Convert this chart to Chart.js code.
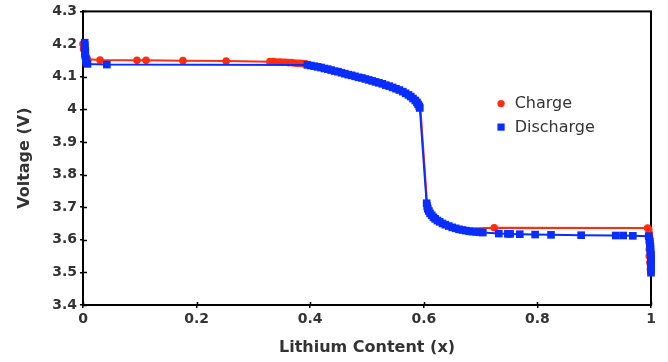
<!DOCTYPE html>
<html><head><meta charset="utf-8">
<script src="https://cdn.jsdelivr.net/npm/chart.js@4/dist/chart.umd.min.js"></script>
<style>html,body{margin:0;padding:0;background:#fff;overflow:hidden}</style>
</head><body><canvas id="c" width="668" height="362"></canvas>
<script>
// ---- data ----
const xTickValues = [0, 0.2, 0.4, 0.6, 0.8, 1];
const xTickLabels = ['0', '0.2', '0.4', '0.6', '0.8', '1'];
const yTickValues = [3.4, 3.5, 3.6, 3.7, 3.8, 3.9, 4.0, 4.1, 4.2, 4.3];
const yTickLabels = ['3.4', '3.5', '3.6', '3.7', '3.8', '3.9', '4', '4.1', '4.2', '4.3'];
const seriesNames = ['Charge', 'Discharge'];
const axisTitles = ['Lithium Content (x)', 'Voltage (V)'];

// Charge (x decreasing along the measurement)
const chargeX = [0.999, 0.998, 0.997, 0.997, 0.997, 0.997, 0.997, 0.996, 0.994,
  0.724, 0.670, 0.650, 0.630, 0.615, 0.606, 0.594, 0.585, 0.563, 0.533, 0.497, 0.461, 0.425,
  0.392, 0.387, 0.382, 0.377, 0.372, 0.367, 0.362, 0.357, 0.352, 0.347, 0.341, 0.335, 0.329,
  0.252, 0.176, 0.111, 0.095, 0.030, 0.008, 0.003, 0.001, 0.000];
const chargeV = [3.510, 3.530, 3.550, 3.570, 3.590, 3.605, 3.620, 3.632, 3.636,
  3.637, 3.634, 3.640, 3.653, 3.672, 3.705, 4.004, 4.027, 4.054, 4.074, 4.093, 4.109, 4.125,
  4.139, 4.140, 4.141, 4.141, 4.142, 4.143, 4.143, 4.144, 4.144, 4.145, 4.145, 4.146, 4.146,
  4.148, 4.149, 4.150, 4.150, 4.151, 4.153, 4.165, 4.185, 4.200];

// Discharge (x increasing)
const dischargeX = [0.003, 0.003, 0.003, 0.004, 0.004, 0.004, 0.005, 0.005, 0.006, 0.008,
  0.042,
  0.395, 0.401, 0.407, 0.413, 0.419, 0.425, 0.431, 0.437, 0.443, 0.449, 0.455, 0.461, 0.467,
  0.473, 0.479, 0.485, 0.491, 0.497, 0.503, 0.509, 0.515, 0.521, 0.527, 0.533, 0.539, 0.545,
  0.551, 0.557, 0.563, 0.568, 0.573, 0.577, 0.581, 0.585, 0.588, 0.590, 0.592, 0.593,
  0.605, 0.606, 0.607, 0.609, 0.611, 0.614, 0.617, 0.620, 0.624, 0.628, 0.633, 0.638, 0.644,
  0.650, 0.656, 0.662, 0.668, 0.674, 0.680, 0.686, 0.692, 0.698, 0.704,
  0.732, 0.748, 0.752, 0.769, 0.796, 0.824, 0.877, 0.938, 0.951, 0.968, 0.996,
  0.997, 0.998, 0.998, 0.999, 0.999, 0.999, 1.000, 1.000, 1.000, 1.000, 1.000, 1.000, 1.000, 1.000];
const dischargeV = [4.204, 4.196, 4.188, 4.180, 4.172, 4.164, 4.156, 4.149, 4.143, 4.139,
  4.137,
  4.136, 4.134, 4.132, 4.130, 4.128, 4.125, 4.123, 4.120, 4.117, 4.115, 4.112, 4.109, 4.106,
  4.104, 4.101, 4.098, 4.096, 4.093, 4.090, 4.087, 4.084, 4.081, 4.078, 4.074, 4.071, 4.067,
  4.063, 4.059, 4.054, 4.049, 4.044, 4.039, 4.033, 4.027, 4.021, 4.015, 4.009, 4.004,
  3.712, 3.703, 3.695, 3.688, 3.681, 3.675, 3.669, 3.664, 3.659, 3.655, 3.650, 3.646, 3.642,
  3.638, 3.635, 3.632, 3.630, 3.628, 3.626, 3.625, 3.624, 3.623, 3.622,
  3.619, 3.618, 3.618, 3.617, 3.616, 3.615, 3.614, 3.613, 3.613, 3.612, 3.611,
  3.603, 3.595, 3.587, 3.579, 3.571, 3.563, 3.555, 3.547, 3.539, 3.531, 3.523, 3.515, 3.507, 3.499];

// ---- styling ----
const RED = '#ff2d0f', BLUE = '#0a2dff';
const FONT = 'DejaVu Sans';

const toPts = (xs, vs) => xs.map((x, i) => ({x: x, y: vs[i]}));

const framePlugin = {
  id: 'frame',
  beforeDatasetsDraw(chart) {
    const {ctx, chartArea: a, scales} = chart;
    ctx.save();
    ctx.strokeStyle = '#000';
    ctx.lineWidth = 2;
    ctx.strokeRect(a.left, a.top, a.right - a.left, a.bottom - a.top);
    ctx.lineWidth = 1.5;
    ctx.beginPath();
    xTickValues.forEach(v => {
      const p = Math.round(scales.x.getPixelForValue(v)) + 0.5;
      ctx.moveTo(p, a.bottom); ctx.lineTo(p, a.bottom - 3);
    });
    yTickValues.forEach(v => {
      const p = Math.round(scales.y.getPixelForValue(v)) + 0.5;
      ctx.moveTo(a.left, p); ctx.lineTo(a.left + 4, p);
    });
    ctx.stroke();
    ctx.restore();
  }
};

const legendPlugin = {
  id: 'customLegend',
  afterDraw(chart) {
    const {ctx, chartArea: a} = chart;
    const w = a.right - a.left, h = a.bottom - a.top;
    const mx = a.left + 0.736 * w, tx = a.left + 0.76 * w;
    const y0 = a.top + 0.314 * h, dy = 23.5;
    ctx.save();
    ctx.fillStyle = RED;
    ctx.beginPath(); ctx.arc(mx, y0, 3.7, 0, Math.PI * 2); ctx.fill();
    ctx.fillStyle = BLUE;
    ctx.fillRect(mx - 3.6, y0 + dy - 3.6, 7.2, 7.2);
    ctx.fillStyle = '#333';
    ctx.font = '16px "' + FONT + '"';
    ctx.textBaseline = 'middle';
    ctx.textAlign = 'left';
    ctx.fillText(seriesNames[0], tx, y0 + 0.5);
    ctx.fillText(seriesNames[1], tx, y0 + dy + 0.5);
    ctx.restore();
  }
};

const tickFont = {family: FONT, size: 14, weight: 'bold'};
const titleFont = {family: FONT, size: 16, weight: 'bold'};

new Chart(document.getElementById('c'), {
  type: 'scatter',
  data: {
    datasets: [
      {
        label: seriesNames[0], data: toPts(chargeX, chargeV), showLine: true,
        borderColor: RED, backgroundColor: RED, borderWidth: 2,
        pointStyle: 'circle', pointBorderWidth: 0,
        pointRadius: ctx => { const x = ctx.raw ? ctx.raw.x : 0; return (x > 0.393 && x < 0.72) ? 0 : 3.8; },
        order: 1, clip: false
      },
      {
        label: seriesNames[1], data: toPts(dischargeX, dischargeV), showLine: true,
        borderColor: BLUE, backgroundColor: BLUE, borderWidth: 2,
        pointStyle: 'rect', pointRadius: 5.4, pointBorderWidth: 0,
        order: 0, clip: false
      }
    ]
  },
  options: {
    responsive: false,
    animation: false,
    devicePixelRatio: 1,
    layout: {padding: {top: 9, right: 17, left: 0, bottom: 0}},
    plugins: {legend: {display: false}, tooltip: {enabled: false}},
    elements: {line: {tension: 0}},
    scales: {
      x: {
        type: 'linear', min: 0, max: 1,
        afterBuildTicks: s => { s.ticks = xTickValues.map(v => ({value: v})); },
        afterFit: s => { s.height = 57; },
        ticks: {font: tickFont, color: '#333', padding: 3, maxRotation: 0, autoSkip: false,
          callback: v => xTickLabels[xTickValues.indexOf(v)]},
        grid: {display: true, drawOnChartArea: false, drawTicks: true, tickLength: 3, color: '#000', lineWidth: 1.5},
        border: {display: true, color: '#000', width: 2},
        title: {display: true, text: axisTitles[0], font: titleFont, color: '#333', padding: {top: 0, bottom: 5}}
      },
      y: {
        type: 'linear', min: 3.4, max: 4.3,
        afterBuildTicks: s => { s.ticks = yTickValues.map(v => ({value: v})); },
        afterFit: s => { s.width = 83; },
        ticks: {font: tickFont, color: '#333', padding: 3, autoSkip: false,
          callback: v => yTickLabels[yTickValues.indexOf(v)]},
        grid: {display: true, drawOnChartArea: false, drawTicks: true, tickLength: 3, color: '#000', lineWidth: 1.5},
        border: {display: true, color: '#000', width: 2},
        title: {display: true, text: axisTitles[1], font: titleFont, color: '#333', padding: {top: 15, bottom: 0}}
      }
    }
  },
  plugins: [framePlugin, legendPlugin]
});
</script>
</body></html>
